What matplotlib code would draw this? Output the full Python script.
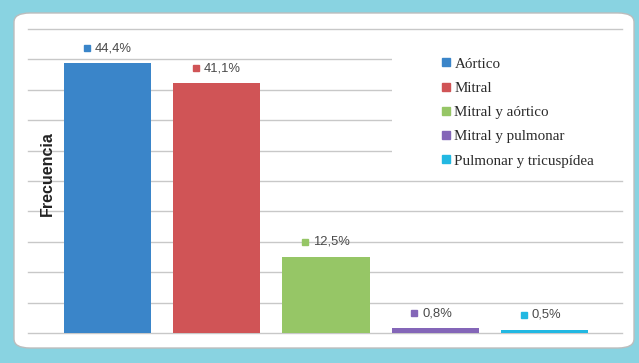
import matplotlib
matplotlib.use("Agg")
import matplotlib.pyplot as plt
import matplotlib.transforms as mtransforms
from matplotlib.patches import FancyBboxPatch, Rectangle
from matplotlib.lines import Line2D

categories = ["Aórtico", "Mitral", "Mitral y aórtico", "Mitral y pulmonar", "Pulmonar y tricuspídea"]
values = [44.4, 41.1, 12.5, 0.8, 0.5]
value_labels = ["44,4%", "41,1%", "12,5%", "0,8%", "0,5%"]
colors = ["#3A85C9", "#D05456", "#96C666", "#8466B8", "#22B8E2"]
y_ticks = [0, 5, 10, 15, 20, 25, 30, 35, 40, 45, 50]

W, H = 639, 363
fig = plt.figure(figsize=(W / 100, H / 100), dpi=100)
fig.patch.set_facecolor("#89D3E1")

# white rounded panel
panel = FancyBboxPatch((14 / W, (H - 348) / H), (634 - 14) / W, (348 - 13) / H,
                       boxstyle="round,pad=0,rounding_size=0.025",
                       transform=fig.transFigure, facecolor="white",
                       edgecolor="#BDBDBD", linewidth=1.0, zorder=-1)
fig.patches.append(panel)

ax_l, ax_r = 28 / W, 622 / W
ax_b, ax_t = (H - 333) / H, (H - 29) / H
ax = fig.add_axes([ax_l, ax_b, ax_r - ax_l, ax_t - ax_b])
ax.set_zorder(1)
ax.set_facecolor("none")

x = list(range(len(categories)))
ax.bar(x, values, width=0.8, color=colors, zorder=3)
ax.set_xlim(-0.728, 4.709)
ax.set_ylim(0, 50)
ax.set_yticks(y_ticks)
ax.set_axisbelow(True)
ax.yaxis.grid(True, color="#C8C8C8", linewidth=1.0)
for gl in ax.yaxis.get_gridlines():
    gl.set_clip_on(False)
ax.tick_params(left=False, bottom=False, labelleft=False, labelbottom=False)
for s in ax.spines.values():
    s.set_visible(False)

# value labels with a colored square key
key_shift = mtransforms.ScaledTranslation(-21 / 100, 15 / 100, fig.dpi_scale_trans)
for xi, v, lab, c in zip(x, values, value_labels, colors):
    ax.plot([xi], [v], marker="s", markersize=4.2, color=c, linestyle="none",
            transform=ax.transData + key_shift, zorder=5, clip_on=False)
    ax.annotate(lab, xy=(xi, v), xytext=(-9.5, 10.8), textcoords="offset points",
                ha="left", va="center", fontsize=9.4, color="#4A4A4A",
                family="Liberation Sans", zorder=5)

ax.text(0.033, 0.525, "Frecuencia", transform=ax.transAxes, rotation=90,
        ha="center", va="center", fontsize=11.5, fontweight="bold",
        color="#222222", family="Liberation Sans", zorder=4)

# legend area on white background
ax.add_patch(Rectangle(((392 - 28) / (622 - 28), (333 - 172) / (333 - 29)),
                       (630 - 392) / (622 - 28), (172 - 44) / (333 - 29),
                       transform=ax.transAxes, facecolor="white",
                       edgecolor="none", zorder=2, clip_on=False))
handles = [Line2D([0], [0], marker="s", linestyle="none", markersize=5.5,
                  markerfacecolor=c, markeredgecolor=c) for c in colors]
leg = ax.legend(handles, categories, loc="upper left",
                bbox_to_anchor=((441 - 28) / (622 - 28), (333 - 57) / (333 - 29)),
                frameon=False, handlelength=0.6, handletextpad=0.3,
                labelspacing=0.72, borderpad=0, borderaxespad=0,
                prop={"family": "Liberation Serif", "size": 10.8})
for t in leg.get_texts():
    t.set_color("#2A2A2A")

fig.savefig("out.png", dpi=100, facecolor=fig.get_facecolor())
